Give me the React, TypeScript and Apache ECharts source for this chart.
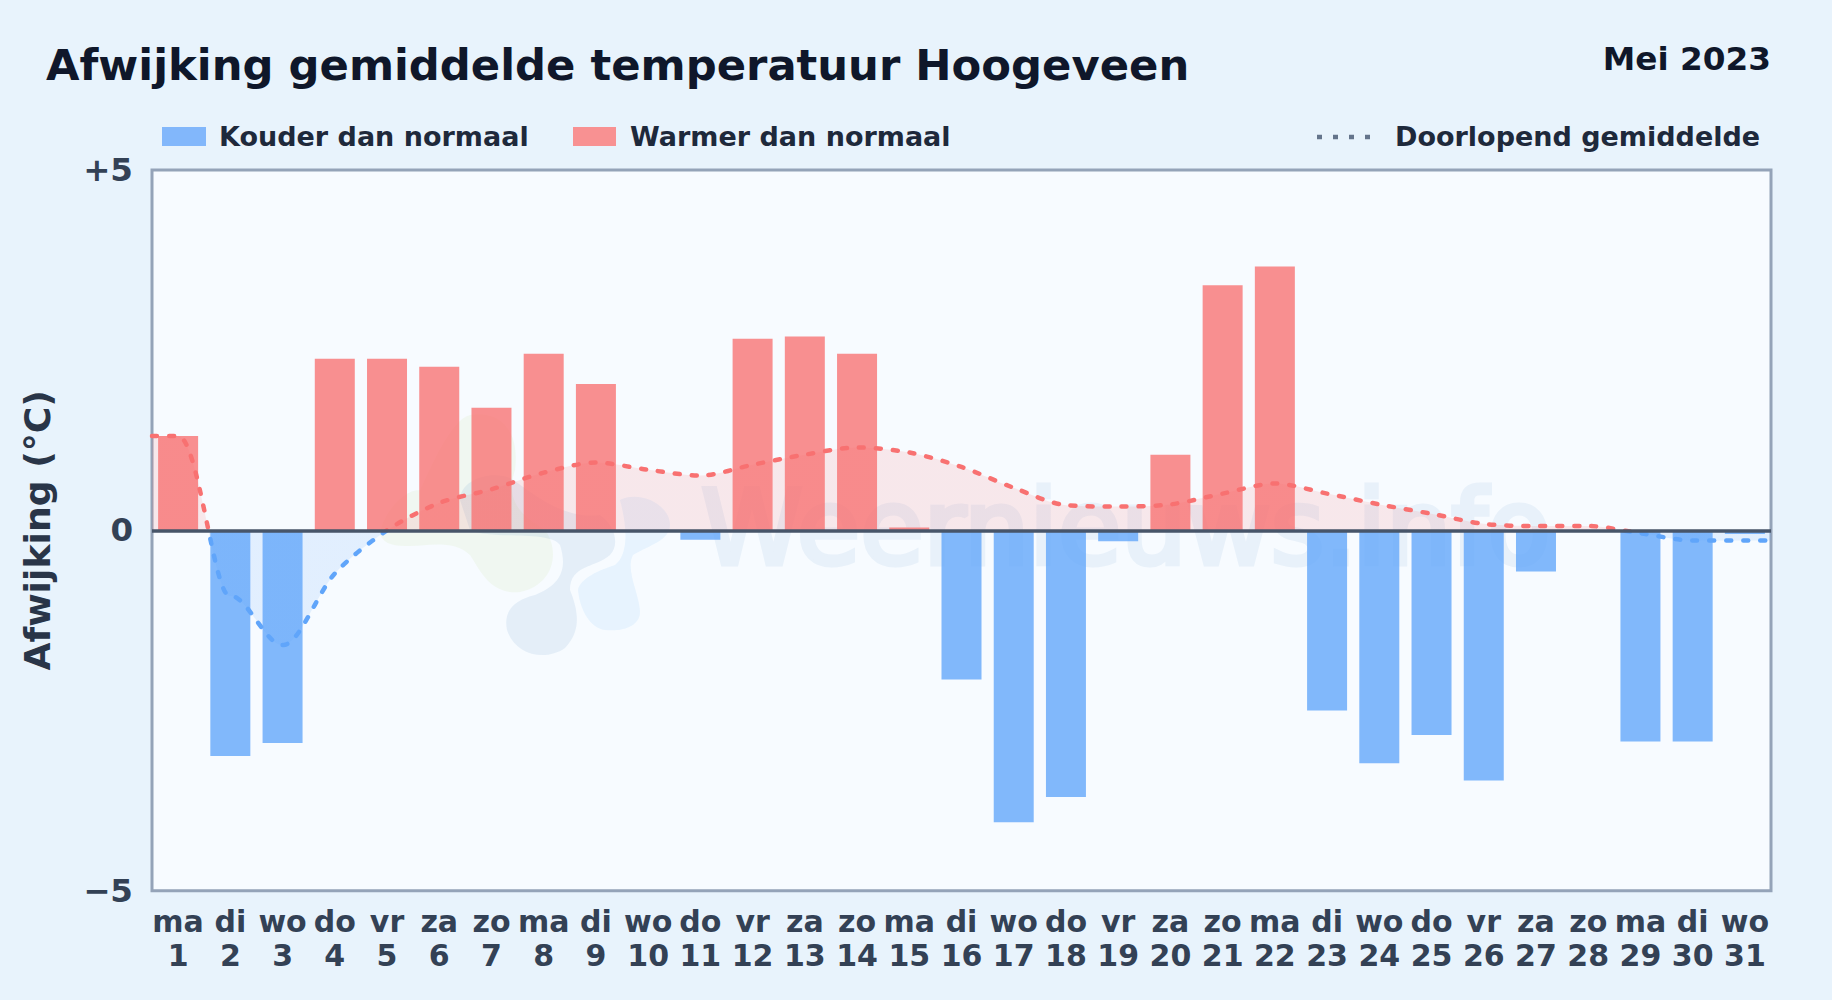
import React, { useEffect, useRef } from "react";
import * as echarts from "echarts";

const FONT = "DejaVu Sans";
const weekdays = ["ma","di","wo","do","vr","za","zo","ma","di","wo","do","vr","za","zo","ma","di","wo","do","vr","za","zo","ma","di","wo","do","vr","za","zo","ma","di","wo"];
const days = ["1","2","3","4","5","6","7","8","9","10","11","12","13","14","15","16","17","18","19","20","21","22","23","24","25","26","27","28","29","30","31"];
const warmer = [1.31,null,null,2.38,2.38,2.27,1.70,2.45,2.03,null,null,2.66,2.69,2.45,0.04,null,null,null,null,1.05,3.40,3.66,null,null,null,null,null,null,null,null,null];
const kouder = [null,-3.13,-2.95,null,null,null,null,null,null,null,-0.13,null,null,null,null,-2.07,-4.05,-3.70,-0.15,null,null,null,-2.50,-3.23,-2.84,-3.47,-0.57,null,-2.93,-2.93,-0.05];
const runningX = [-0.5,0,0.985,1.015,1.985,2.015,3,4,5,6,7,8,9,10,11,12,13,14,15,16,17,18,19,20,21,22,23,24,25,26,27,28,29,30,30.5];
const runningY = [1.31,1.31,-0.91,-0.91,-1.59,-1.59,-0.60,0.00,0.38,0.57,0.80,0.94,0.84,0.76,0.91,1.05,1.15,1.08,0.88,0.59,0.35,0.33,0.36,0.51,0.65,0.51,0.36,0.23,0.09,0.06,0.06,-0.04,-0.14,-0.14,-0.14];
const yTicks: Record<string,string> = { "5": "+5", "0": "0", "-5": "\u22125" };

const TITLE = "Afwijking gemiddelde temperatuur Hoogeveen";
const PERIOD = "Mei 2023";
const YNAME = "Afwijking (\u00b0C)";
const WATERMARK = "Weernieuws.info";

echarts.graphic.registerShape("wmGreen", echarts.graphic.extendPath("M 380 535 C 380 520 400 490 420 490 C 430 470 450 420 470 415 C 500 410 520 430 515 470 C 505 500 520 515 545 530 C 560 550 555 585 520 592 C 490 595 480 570 470 555 C 455 540 430 545 410 546 C 395 546 385 545 380 535 Z", {}));
echarts.graphic.registerShape("wmDark", echarts.graphic.extendPath("M 460 500 C 460 480 490 470 510 478 C 530 490 560 520 600 515 C 615 525 620 545 610 555 C 595 568 570 565 570 590 C 578 610 582 630 565 648 C 545 662 515 655 507 630 C 503 610 515 600 535 595 C 560 585 568 570 560 545 C 550 530 490 540 470 530 Z", {}));
echarts.graphic.registerShape("wmLight", echarts.graphic.extendPath("M 620 500 C 640 490 670 505 670 525 C 670 540 650 545 633 555 C 625 570 640 595 640 612 C 640 625 625 632 605 630 C 590 628 580 610 578 590 C 580 578 600 570 615 565 C 628 555 628 530 620 500 Z", {}));

export default function App() {
  const ref = useRef<HTMLDivElement>(null);
  useEffect(() => {
    document.body.style.margin = "0";
    const chart = echarts.init(ref.current!, undefined, { renderer: "svg" });
    const legendText = { fontFamily: FONT, fontWeight: "bold", fontSize: 27, fill: "#1e293b" };
    chart.setOption({
      animation: false,
      backgroundColor: "#e8f3fc",
      grid: { left: 152, right: 61, top: 170, bottom: 109.3, show: true, backgroundColor: "#f7fbff", borderColor: "#94a3b8", borderWidth: 3, containLabel: false },
      xAxis: [
        {
          type: "category", data: days, position: "bottom",
          axisLine: { show: false }, axisTick: { show: false }, splitLine: { show: false },
          axisLabel: {
            interval: 0, margin: 14, color: "#334155", fontFamily: FONT, fontWeight: "bold", fontSize: 30, lineHeight: 34,
            formatter: (_: string, i: number) => `${weekdays[i]}\n${days[i]}`,
          },
        },
        { type: "value", min: -0.5, max: 30.5, show: false },
      ],
      yAxis: {
        type: "value", min: -5, max: 5, interval: 5,
        name: YNAME, nameLocation: "middle", nameRotate: 90, nameGap: 97,
        nameTextStyle: { color: "#293548", fontFamily: FONT, fontWeight: "bold", fontSize: 36.2 },
        axisLine: { show: false }, axisTick: { show: false }, splitLine: { show: false },
        axisLabel: { margin: 19, color: "#334155", fontFamily: FONT, fontWeight: "bold", fontSize: 32.5, formatter: (v: number) => yTicks[String(v)] ?? "" },
      },
      visualMap: {
        show: false, type: "piecewise", seriesIndex: 2, dimension: 1,
        pieces: [{ gte: -5, lt: 0, color: "#60a5fa" }, { gte: 0, lte: 5, color: "#f87171" }],
      },
      series: [
        { name: "Warmer dan normaal", type: "bar", data: warmer, barWidth: 40, barGap: "-100%", z: 2, itemStyle: { color: "rgba(248,113,113,0.78)" } },
        { name: "Kouder dan normaal", type: "bar", data: kouder, barWidth: 40, barGap: "-100%", z: 2, itemStyle: { color: "rgba(96,165,250,0.78)" } },
        {
          name: "Doorlopend gemiddelde", type: "line", xAxisIndex: 1, data: runningX.map((x, i) => [x, runningY[i]]),
          smooth: 0.3, symbol: "none", z: 3,
          lineStyle: { width: 4.5, type: [5, 12], cap: "round" },
          areaStyle: { opacity: 0.14, origin: 0 },
        },
        {
          name: "Nullijn", type: "bar", data: warmer.map(() => null), z: 4, barWidth: 40, barGap: "-100%",
          markLine: { silent: true, symbol: "none", label: { show: false }, lineStyle: { color: "#475569", width: 3.5, type: "solid" }, data: [{ yAxis: 0 }] },
        },
      ],
      graphic: [
        { type: "text", x: 46, y: 43, style: { text: TITLE, fontFamily: FONT, fontWeight: "bold", fontSize: 43.3, fill: "#0f172a" } },
        { type: "text", x: 1771, y: 42, style: { text: PERIOD, align: "right", fontFamily: FONT, fontWeight: "bold", fontSize: 32.7, fill: "#0f172a" } },
        { type: "rect", shape: { x: 162, y: 127, width: 44, height: 19 }, style: { fill: "#82b7fb" } },
        { type: "text", x: 219, y: 123, style: { ...legendText, text: "Kouder dan normaal" } },
        { type: "rect", shape: { x: 573, y: 127, width: 43, height: 19 }, style: { fill: "#f89192" } },
        { type: "text", x: 630, y: 123, style: { ...legendText, text: "Warmer dan normaal" } },
        { type: "line", shape: { x1: 1317, y1: 137, x2: 1376, y2: 137 }, style: { stroke: "#64748b", lineWidth: 4.5, lineDash: [5, 11] } },
        { type: "text", x: 1395, y: 123, style: { ...legendText, text: "Doorlopend gemiddelde" } },
        { type: "wmGreen", silent: true, z: 1, style: { fill: "rgba(205,230,170,0.16)" } },
        { type: "wmDark", silent: true, z: 1, style: { fill: "rgba(120,165,210,0.15)" } },
        { type: "wmLight", silent: true, z: 1, style: { fill: "rgba(120,190,245,0.13)" } },
        { type: "text", silent: true, z: 1, x: 701, y: 476, style: { text: WATERMARK, fontFamily: FONT, fontSize: 103, fill: "#e8f1fa", stroke: "#e8f1fa", lineWidth: 5 } },
      ],
    });
    return () => chart.dispose();
  }, []);
  return <div ref={ref} style={{ width: 1832, height: 1000 }} />;
}
